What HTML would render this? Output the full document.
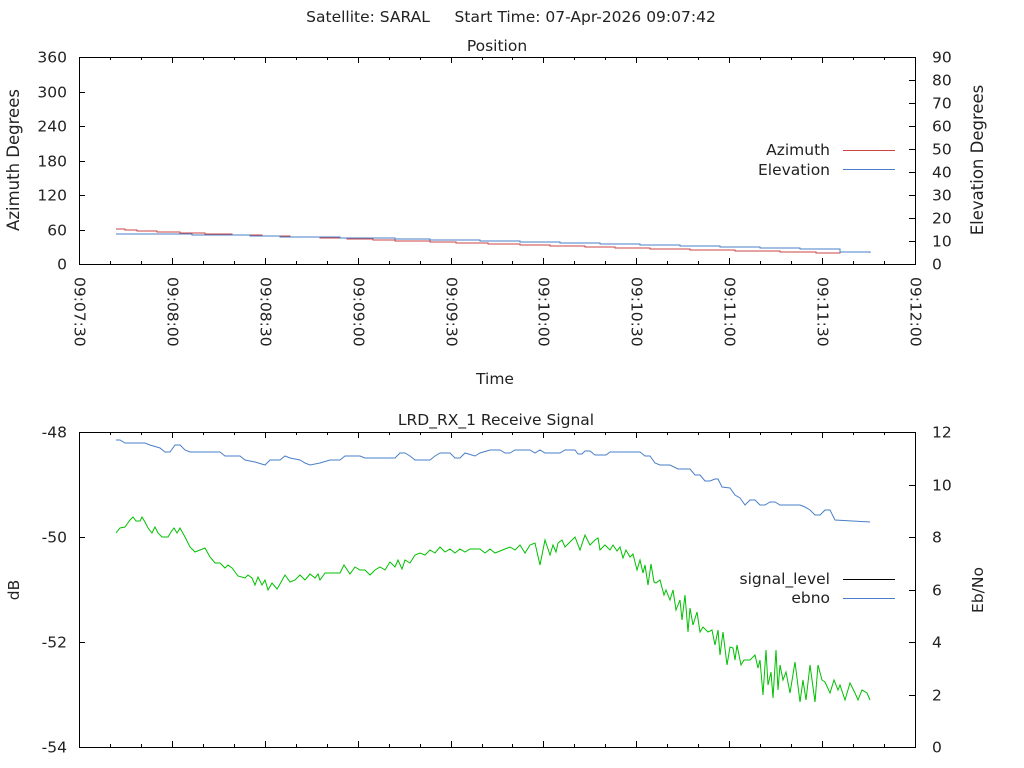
<!DOCTYPE html>
<html><head><meta charset="utf-8"><style>
html,body{margin:0;padding:0;background:#fff;}
svg{display:block;font-family:"DejaVu Sans","Liberation Sans",sans-serif;font-size:15.5px;fill:#222;}
</style></head><body>
<svg id="s" width="1024" height="768" viewBox="0 0 1024 768" xmlns="http://www.w3.org/2000/svg">
<rect width="1024" height="768" fill="#fff"/>
<text x="511" y="22" text-anchor="middle" xml:space="preserve">Satellite: SARAL     Start Time: 07-Apr-2026 09:07:42</text>
<text x="497" y="51" text-anchor="middle">Position</text>
<text x="495" y="384" text-anchor="middle">Time</text>
<text x="496" y="425" text-anchor="middle">LRD_RX_1 Receive Signal</text>
<text transform="translate(19,160) rotate(-90)" text-anchor="middle" style="font-size:16.5px">Azimuth Degrees</text>
<text transform="translate(983,160) rotate(-90)" text-anchor="middle" style="font-size:16.5px">Elevation Degrees</text>
<text transform="translate(19,590) rotate(-90)" text-anchor="middle">dB</text>
<text transform="translate(983,590) rotate(-90)" text-anchor="middle">Eb/No</text>
<g fill="none" stroke="#000" stroke-width="1">
<rect x="79.5" y="57.5" width="836" height="207"/>
<rect x="79.5" y="432.5" width="836" height="315"/>
</g>
<g id="ticks" stroke="#000" stroke-width="1"></g>
<g id="labels"></g>
<polyline fill="none" stroke="#cc4444" stroke-width="1" points="116,229 125,229 125,230 137,230 137,231 157,231 157,232 180,232 180,233 205,233 205,234 232,234 232,235 262,235 262,236 290,236 290,237 320,237 320,238 347,238 347,239 373,239 373,240 395,240 395,241 430,241 430,242 456,242 456,243 488,243 488,244 520,244 520,245 550,245 550,246 585,246 585,247 615,247 615,248 650,248 650,249 690,249 690,250 735,250 735,251 780,251 780,252 816,252 816,253 840,253 840,252 870,252"/>
<polyline fill="none" stroke="#4a7fc8" stroke-width="1" points="116,234 192,234 192,235 250,235 250,236 280,236 280,237 340,237 340,238 395,238 395,239 430,239 430,240 480,240 480,241 520,241 520,242 560,242 560,243 600,243 600,244 640,244 640,245 680,245 680,246 720,246 720,247 760,247 760,248 800,248 800,249 840,249 840,252 870,252 870,253"/>
<text x="830" y="155" text-anchor="end">Azimuth</text>
<line x1="843" y1="150.5" x2="895" y2="150.5" stroke="#cc4444"/>
<text x="830" y="175" text-anchor="end">Elevation</text>
<line x1="843" y1="169.5" x2="895" y2="169.5" stroke="#4a7fc8"/>
<text x="830" y="584" text-anchor="end">signal_level</text>
<line x1="843" y1="579.5" x2="895" y2="579.5" stroke="#000"/>
<text x="830" y="603" text-anchor="end">ebno</text>
<line x1="843" y1="598.5" x2="895" y2="598.5" stroke="#4a7fc8"/>
<polyline fill="none" stroke="#4a7fc8" stroke-width="1" points="116,440 120,440 125,443 145,443 150,445 160,448 165,452 170,452 175,445 180,445 185,450 190,452 220,452 225,456 240,456 245,460 255,462 265,465 270,460 280,460 285,456 290,458 300,460 305,463 310,465 320,463 330,460 340,460 345,456 360,456 365,458 395,458 400,453 405,453 410,456 415,460 430,460 435,456 440,453 450,453 455,458 460,458 465,453 475,456 480,453 490,450 500,450 505,453 510,453 515,450 530,450 535,453 540,450 545,453 560,453 565,450 575,450 578,454 582,454 585,451 590,451 595,455 606,455 610,452 640,452 645,456 650,456 655,463 660,465 670,465 678,469 690,469 695,475 700,475 705,481 710,481 715,479 718,479 722,487 730,488 735,495 740,498 745,505 750,500 755,500 760,505 765,505 770,502 775,502 780,505 800,505 805,507 810,510 815,515 820,515 825,510 830,510 835,520 870,522"/>
<polyline fill="none" stroke="#00c000" stroke-width="1" points="116,533 120,528 125,527 130,520 133,517 136,521 140,521 142,517 145,522 148,528 152,533 155,527 158,533 162,537 168,537 171,532 174,528 177,533 180,528 185,537 190,547 195,552 200,550 205,548 210,557 215,563 220,563 225,568 228,565 232,568 238,576 245,578 248,575 252,578 255,585 258,577 262,585 265,580 268,590 272,583 277,589 280,584 285,575 290,582 295,580 300,575 305,580 310,574 315,578 318,574 320,580 325,573 332,573 340,573 344,565 350,574 355,567 360,570 365,570 370,575 375,570 380,567 385,570 390,562 395,567 398,560 402,569 405,560 410,563 415,555 420,553 425,555 430,550 435,553 440,547 445,552 450,549 455,553 460,549 465,552 470,549 480,549 485,553 490,549 495,553 505,549 510,547 515,550 520,545 525,553 530,545 535,543 540,565 545,540 550,555 553,545 556,552 558,543 562,540 565,547 570,542 575,537 580,550 585,535 590,545 595,540 598,538 600,550 605,545 610,550 613,545 617,551 620,547 623,558 626,550 630,557 633,554 637,570 640,560 643,573 645,565 648,585 651,564 654,582 656,583 660,580 664,595 666,590 670,600 673,590 676,610 680,600 682,620 685,595 688,632 690,608 693,625 697,612 700,632 703,627 708,632 712,630 715,645 718,630 720,655 723,632 727,665 730,647 733,648 735,660 737,645 741,665 744,660 750,660 755,655 758,668 760,660 763,695 766,650 768,685 771,672 773,698 776,650 778,690 780,665 783,680 786,672 790,693 795,662 800,702 803,680 806,700 810,665 815,702 818,665 822,680 825,682 830,693 834,680 838,690 840,685 845,700 850,683 855,693 858,700 862,690 867,693 870,700"/>
<script>
(function(){
var NS="http://www.w3.org/2000/svg",t=document.getElementById("ticks"),L=document.getElementById("labels");
function ln(x1,y1,x2,y2){var e=document.createElementNS(NS,"line");e.setAttribute("x1",x1);e.setAttribute("y1",y1);e.setAttribute("x2",x2);e.setAttribute("y2",y2);t.appendChild(e);}
function tx(x,y,s,a,tr){var e=document.createElementNS(NS,"text");e.setAttribute("x",x);e.setAttribute("y",y);if(a)e.setAttribute("text-anchor",a);if(tr)e.setAttribute("transform",tr);e.textContent=s;L.appendChild(e);}
var times=["09:07:30","09:08:00","09:08:30","09:09:00","09:09:30","09:10:00","09:10:30","09:11:00","09:11:30","09:12:00"];
for(var k=0;k<=27;k++){var x=Math.round(79+836*k/27)+0.5,len=(k%3==0)?6:3;
 ln(x,264,x,264-len);ln(x,57,x,57+len);ln(x,747,x,747-len);ln(x,432,x,432+len);
 if(k%3==0){tx(x-5,277,times[k/3],"start","rotate(90 "+(x-5)+" 277)");}}
for(var i=0;i<=6;i++){var y=Math.round(264-207*i/6)+0.5;ln(79,y,85,y);tx(67,y+5,String(i*60),"end");}
for(var i=0;i<=9;i++){var y=Math.round(264-207*i/9)+0.5;ln(915,y,909,y);tx(932,y+5,String(i*10),"start");}
for(var i=0;i<=3;i++){var y=Math.round(432+315*i/3)+0.5;ln(79,y,85,y);tx(67,y+5,String(-48-2*i),"end");}
for(var i=0;i<=6;i++){var y=Math.round(747-315*i/6)+0.5;ln(915,y,909,y);tx(932,y+5,String(i*2),"start");}
})();
</script>
</svg>
</body></html>
